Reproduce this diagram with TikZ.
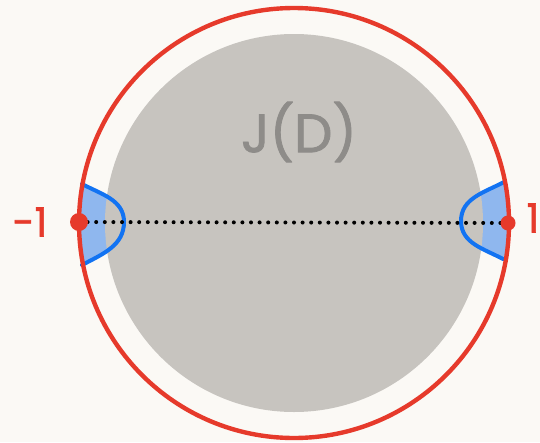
\documentclass[tikz,border=0pt]{standalone}
\usepackage{fontspec}
\setmainfont{Poppins}
\newfontfamily\markfont[FakeBold=1.5]{Poppins}
\definecolor{bg}{HTML}{FBF9F5}
\definecolor{ringred}{HTML}{E63A2B}
\definecolor{lensblue}{HTML}{1273F2}
\definecolor{lensfill}{HTML}{8FB7EE}
\definecolor{diskgray}{HTML}{C7C4BF}
\definecolor{textgray}{HTML}{8E8C89}
\tikzset{
  ring/.style={draw=ringred,line width=4.4pt},
  lensline/.style={draw=lensblue,line width=4pt,line cap=round},
  dotline/.style={line width=4pt,line cap=round,dash pattern=on 0pt off 8.6pt},
  redlabel/.style={text=ringred,font=\markfont\fontsize{40}{40}\selectfont},
  disklabel/.style={text=textgray,font=\markfont\fontsize{54}{54}\selectfont}
}
\begin{document}
\begin{tikzpicture}[x=1pt,y=-1pt]
\fill[bg] (0,0) rectangle (540,442);
\useasboundingbox (0,0) rectangle (540,442);
\coordinate (O) at (294,223);
\coordinate (L) at (79,222);
\coordinate (R) at (508,223);
\begin{scope}
  \clip (O) circle (215);
  \fill[lensfill] (82,184) to[out=-28,in=90] (124,222) to[out=-90,in=28] (82,265) -- (60,265) -- (60,184) -- cycle;
  \fill[lensfill] (504,182) to[out=208,in=90] (461,221) to[out=-90,in=152] (503,259) -- (530,259) -- (530,182) -- cycle;
\end{scope}
\fill[diskgray] (O) circle (189);
\draw[lensline] (82,184) to[out=-28,in=90] (124,222) to[out=-90,in=28] (82,265);
\draw[lensline] (504,182) to[out=208,in=90] (461,221) to[out=-90,in=152] (503,259);
\draw[dotline] (L) -- (R);
\draw[ring] (O) circle (215);
\fill[ringred] (L) circle (9);
\fill[ringred] (R) circle (7.5);
\node[redlabel] (lm) at (30,222) {-1};
\node[redlabel] (lp) at (533,218) {1};
\node[disklabel] (jd) at (299,132) {J(D)};
\end{tikzpicture}
\end{document}
